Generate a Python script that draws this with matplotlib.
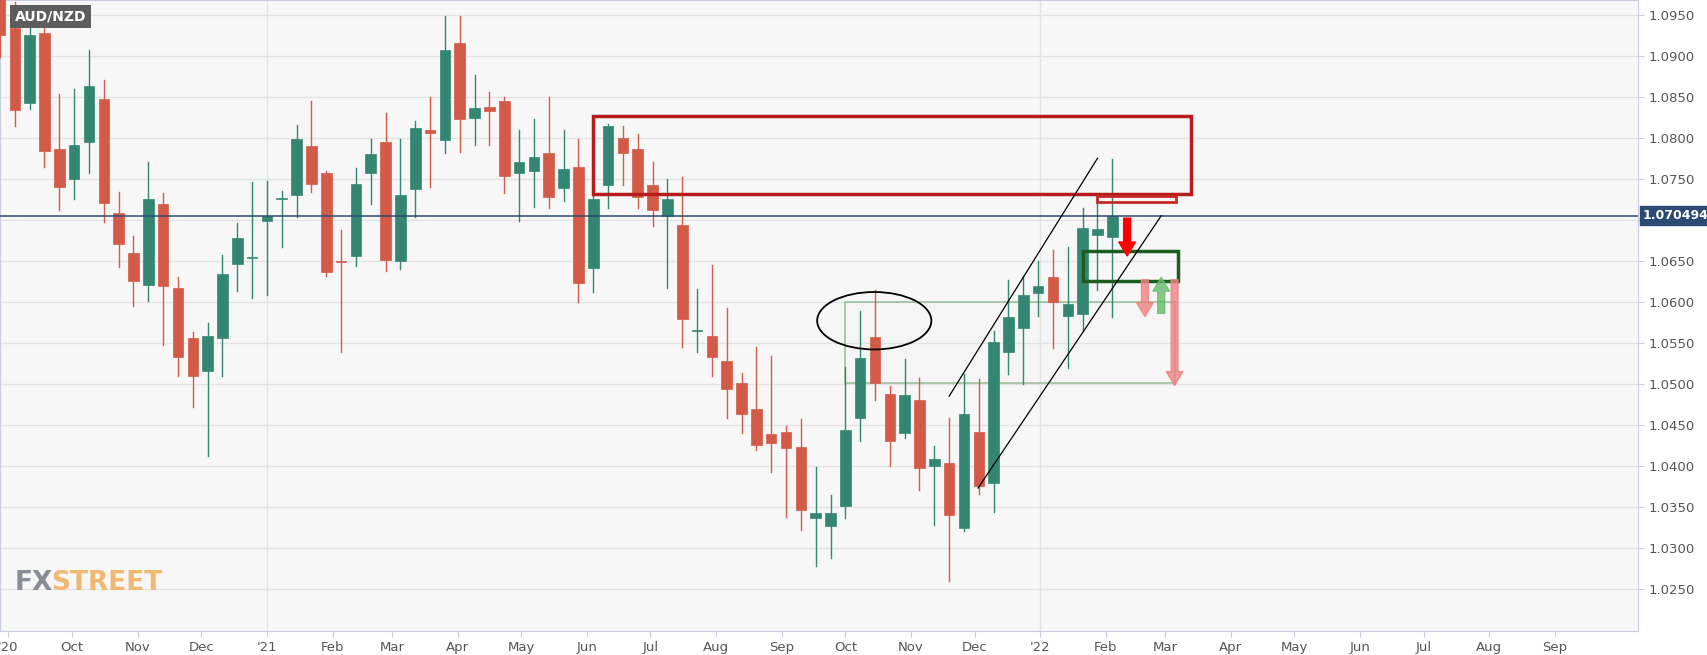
import matplotlib
matplotlib.use("Agg")
import matplotlib.pyplot as plt
import matplotlib.dates as mdates
from matplotlib.patches import Rectangle, Ellipse
import numpy as np
import datetime as dt

# weekly AUD/NZD candles
opens = [1.0977, 1.0934, 1.0843, 1.0928, 1.0786, 1.0750, 1.0795, 1.0847, 1.0708, 1.0659,
         1.0621, 1.0719, 1.0617, 1.0556, 1.0516, 1.0556, 1.0646, 1.0654, 1.0699, 1.0725,
         1.0730, 1.0790, 1.0757, 1.0650, 1.0656, 1.0757, 1.0795, 1.0650, 1.0737, 1.0809,
         1.0797, 1.0916, 1.0824, 1.0838, 1.0845, 1.0757, 1.0760, 1.0781, 1.0739, 1.0765,
         1.0641, 1.0742, 1.0800, 1.0786, 1.0743, 1.0705, 1.0694, 1.0565, 1.0558, 1.0528,
         1.0501, 1.0469, 1.0439, 1.0441, 1.0423, 1.0336, 1.0327, 1.0351, 1.0459, 1.0557,
         1.0488, 1.0440, 1.0480, 1.0400, 1.0404, 1.0324, 1.0441, 1.0379, 1.0539, 1.0568,
         1.0611, 1.0630, 1.0583, 1.0585, 1.0681, 1.0679]
highs = [1.0995, 1.0965, 1.0938, 1.0935, 1.0854, 1.0859, 1.0907, 1.0870, 1.0734, 1.0680,
         1.0771, 1.0733, 1.0630, 1.0563, 1.0574, 1.0657, 1.0696, 1.0746, 1.0747, 1.0735,
         1.0816, 1.0845, 1.0759, 1.0688, 1.0763, 1.0798, 1.0830, 1.0798, 1.0821, 1.0850,
         1.0948, 1.0948, 1.0877, 1.0856, 1.0850, 1.0809, 1.0823, 1.0850, 1.0810, 1.0799,
         1.0729, 1.0817, 1.0814, 1.0805, 1.0771, 1.0750, 1.0752, 1.0616, 1.0645, 1.0593,
         1.0513, 1.0545, 1.0534, 1.0449, 1.0457, 1.0399, 1.0365, 1.0521, 1.0589, 1.0615,
         1.0497, 1.0530, 1.0507, 1.0424, 1.0458, 1.0512, 1.0506, 1.0565, 1.0627, 1.0632,
         1.0650, 1.0663, 1.0667, 1.0715, 1.0730, 1.0774]
lows = [1.0898, 1.0814, 1.0835, 1.0765, 1.0712, 1.0725, 1.0757, 1.0697, 1.0643, 1.0595,
        1.0601, 1.0547, 1.0510, 1.0472, 1.0412, 1.0510, 1.0613, 1.0605, 1.0608, 1.0667,
        1.0703, 1.0734, 1.0632, 1.0539, 1.0644, 1.0719, 1.0638, 1.0640, 1.0704, 1.0740,
        1.0781, 1.0783, 1.0791, 1.0791, 1.0733, 1.0698, 1.0716, 1.0714, 1.0723, 1.0600,
        1.0612, 1.0714, 1.0743, 1.0714, 1.0692, 1.0617, 1.0545, 1.0539, 1.0510, 1.0458,
        1.0440, 1.0419, 1.0392, 1.0338, 1.0322, 1.0278, 1.0288, 1.0336, 1.0430, 1.0480,
        1.0400, 1.0434, 1.0371, 1.0328, 1.0260, 1.0321, 1.0366, 1.0344, 1.0512, 1.0500,
        1.0583, 1.0544, 1.0519, 1.0564, 1.0614, 1.0581]
closes = [1.0925, 1.0834, 1.0925, 1.0784, 1.0740, 1.0791, 1.0863, 1.0721, 1.0670, 1.0625,
          1.0725, 1.0619, 1.0533, 1.0509, 1.0558, 1.0634, 1.0678, 1.0655, 1.0705, 1.0726,
          1.0799, 1.0744, 1.0636, 1.0648, 1.0744, 1.0780, 1.0651, 1.0730, 1.0812, 1.0806,
          1.0907, 1.0823, 1.0836, 1.0833, 1.0753, 1.0770, 1.0777, 1.0728, 1.0762, 1.0623,
          1.0725, 1.0814, 1.0781, 1.0728, 1.0712, 1.0725, 1.0579, 1.0566, 1.0533, 1.0494,
          1.0463, 1.0425, 1.0428, 1.0422, 1.0346, 1.0342, 1.0343, 1.0444, 1.0532, 1.0501,
          1.0430, 1.0487, 1.0398, 1.0409, 1.0340, 1.0463, 1.0375, 1.0551, 1.0581, 1.0608,
          1.0619, 1.0600, 1.0597, 1.0690, 1.0689, 1.070494]

first_week = dt.date(2020, 8, 28)
last_price = 1.070494
price_ticks = [1.0250, 1.0300, 1.0350, 1.0400, 1.0450, 1.0500, 1.0550, 1.0600,
               1.0650, 1.0700, 1.0750, 1.0800, 1.0850, 1.0900, 1.0950]
month_ticks = [dt.date(2020, 9, 1), dt.date(2020, 10, 1), dt.date(2020, 11, 1), dt.date(2020, 12, 1),
               dt.date(2021, 1, 1), dt.date(2021, 2, 1), dt.date(2021, 3, 1), dt.date(2021, 4, 1),
               dt.date(2021, 5, 1), dt.date(2021, 6, 1), dt.date(2021, 7, 1), dt.date(2021, 8, 1),
               dt.date(2021, 9, 1), dt.date(2021, 10, 1), dt.date(2021, 11, 1), dt.date(2021, 12, 1),
               dt.date(2022, 1, 1), dt.date(2022, 2, 1), dt.date(2022, 3, 1), dt.date(2022, 4, 1),
               dt.date(2022, 5, 1), dt.date(2022, 6, 1), dt.date(2022, 7, 1), dt.date(2022, 8, 1),
               dt.date(2022, 9, 1)]
month_labels = ["'20", "Oct", "Nov", "Dec", "'21", "Feb", "Mar", "Apr", "May", "Jun", "Jul", "Aug",
                "Sep", "Oct", "Nov", "Dec", "'22", "Feb", "Mar", "Apr", "May", "Jun", "Jul", "Aug", "Sep"]

GREEN = "#338672"
RED = "#d45a48"

fig = plt.figure(figsize=(17.07, 6.55), dpi=100)
ax = fig.add_axes([0.0, 0.037, 0.9596, 0.963])
ax.set_facecolor("#f7f7f7")

x0 = mdates.date2num(first_week)
def wk(i):
    # x position of week index i (fractional allowed)
    return x0 + 7 * i

for i, (o, h, l, c) in enumerate(zip(opens, highs, lows, closes)):
    col = GREEN if c >= o else RED
    x = wk(i)
    ax.plot([x, x], [l, h], color=col, lw=1.0, zorder=3)
    ax.add_patch(Rectangle((x - 2.5, min(o, c)), 5.0, max(abs(c - o), 0.00012),
                           facecolor=col, edgecolor=col, lw=0.5, zorder=4))

ax.set_xlim(x0, wk(110.45))
ax.set_ylim(1.0199, 1.0968)

ax.set_yticks(price_ticks)
ax.yaxis.tick_right()
# the 1.0700 label sits under the last-price tag
ax.set_yticklabels(["" if abs(p - 1.07) < 1e-9 else f"{p:.4f}" for p in price_ticks],
                   color="#555555", fontsize=9.5)
ax.set_xticks([mdates.date2num(d) for d in month_ticks])
ax.set_xticklabels(month_labels, color="#555555", fontsize=9.5)
ax.tick_params(axis="both", length=4, color="#c8cde0")
ax.grid(axis="y", color="#e3e3e3", lw=1)
for d in [dt.date(2021, 1, 1), dt.date(2022, 1, 1)]:
    ax.axvline(mdates.date2num(d), color="#e3e3e3", lw=1, zorder=0)
for s in ax.spines.values():
    s.set_color("#c8cde0")

# last price line and tag
ax.axhline(last_price, color="#2c4a73", lw=1.1, zorder=5)
ax.text(1.003, last_price, "1.070494", transform=ax.get_yaxis_transform(), ha="left", va="center",
        color="white", fontsize=9, fontweight="bold",
        bbox=dict(boxstyle="square,pad=0.25", fc="#2c4a73", ec="#2c4a73"))

# annotations
ax.add_patch(Rectangle((wk(40.0), 1.0732), wk(80.3) - wk(40.0), 1.0826 - 1.0732,
                       fill=False, ec="#b71c1c", lw=2.5, zorder=6))
ax.add_patch(Rectangle((wk(74.0), 1.0722), wk(79.3) - wk(74.0), 0.0007,
                       fill=False, ec="#c62828", lw=2, zorder=6))
ax.add_patch(Rectangle((wk(57.0), 1.0501), wk(79.2) - wk(57.0), 1.0600 - 1.0501,
                       fc="#8fbc8f", alpha=0.025, ec="none", zorder=2))
ax.add_patch(Rectangle((wk(57.0), 1.0501), wk(79.2) - wk(57.0), 1.0600 - 1.0501,
                       fill=False, ec="#9cbf9c", lw=1.2, zorder=2))
ax.add_patch(Rectangle((wk(73.0), 1.0626), wk(79.4) - wk(73.0), 1.0662 - 1.0626,
                       fill=False, ec="#1b5e20", lw=2.5, zorder=6))
ax.add_patch(Ellipse((wk(58.95), 1.0577), wk(62.8) - wk(55.1), 0.0070,
                     fill=False, ec="black", lw=1.3, zorder=6))
ax.plot([wk(64.0), wk(74.0)], [1.0485, 1.0775], color="black", lw=0.9, zorder=6)
ax.plot([wk(65.95), wk(78.3)], [1.0373, 1.0705], color="black", lw=0.9, zorder=6)

def block_arrow(i, y1, y2, color, alpha, width=5, head=12):
    ax.annotate("", xy=(wk(i), y2), xytext=(wk(i), y1), zorder=7,
                arrowprops=dict(arrowstyle=f"simple,head_width={head/10},head_length={head/12},tail_width={width/10}",
                                fc=color, ec=color, alpha=alpha, shrinkA=0, shrinkB=0, mutation_scale=10))

block_arrow(76.0, 1.0702, 1.0656, "#ff0000", 1.0)
block_arrow(77.2, 1.0627, 1.0582, "#f08080", 0.8)
block_arrow(78.3, 1.0586, 1.0630, "#66bb6a", 0.8)
block_arrow(79.2, 1.0627, 1.0498, "#f08080", 0.8)

# symbol tag and watermark
ax.text(0.009, 0.985, "AUD/NZD", transform=ax.transAxes, ha="left", va="top", color="white",
        fontsize=10, fontweight="bold",
        bbox=dict(boxstyle="square,pad=0.35", fc="#555555", ec="none", alpha=0.95))
ax.text(0.009, 0.075, "FX", transform=ax.transAxes, ha="left", va="center", color="#8a8d95",
        fontsize=19, fontweight="bold")
ax.text(0.0315, 0.075, "STREET", transform=ax.transAxes, ha="left", va="center", color="#f0b870",
        fontsize=19, fontweight="bold")

fig.savefig("out.png", dpi=100)
